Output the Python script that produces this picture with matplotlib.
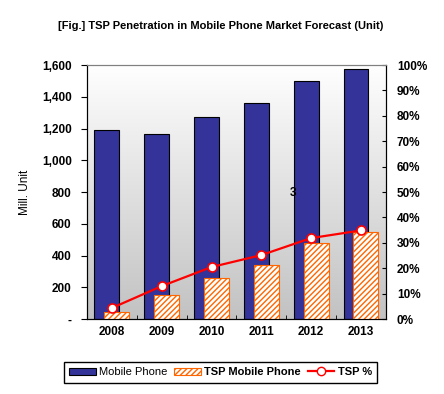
import numpy as np
import matplotlib
matplotlib.use("Agg")
import matplotlib.pyplot as plt
from matplotlib.patches import Patch
from matplotlib.lines import Line2D

plt.rcParams['font.family'] = ['Liberation Sans Narrow', 'Liberation Sans', 'DejaVu Sans']
plt.rcParams['hatch.linewidth'] = 1.0

years = ['2008', '2009', '2010', '2011', '2012', '2013']
mobile = [1188, 1163, 1273, 1361, 1497, 1575]
tsp_mobile = [48, 149, 258, 344, 479, 548]
tsp_pct = [0.044, 0.130, 0.205, 0.252, 0.319, 0.349]
left_ticks = [0, 200, 400, 600, 800, 1000, 1200, 1400, 1600]
left_labels = ['-', '200', '400', '600', '800', '1,000', '1,200', '1,400', '1,600']
right_ticks = [0.0, 0.1, 0.2, 0.3, 0.4, 0.5, 0.6, 0.7, 0.8, 0.9, 1.0]

fig = plt.figure(figsize=(4.44, 3.94), dpi=100)
ax = fig.add_axes([0.196, 0.190, 0.673, 0.645])

# plot area gradient (white at top -> grey at bottom)
grad = np.linspace(0, 1, 256).reshape(-1, 1)
ax.imshow(grad, extent=[0, 1, 0, 1], transform=ax.transAxes, aspect='auto',
          cmap=matplotlib.colors.LinearSegmentedColormap.from_list('g', ['#ffffff', '#c2c2c2']),
          zorder=0)

x = np.arange(len(years))
ax.bar(x - 0.1, mobile, 0.5, color='#333399', edgecolor='black', linewidth=0.8, zorder=2)
ax.bar(x + 0.1, tsp_mobile, 0.5, color='white', edgecolor='#FF6600', hatch='//////',
       linewidth=0.8, zorder=3)

ax.set_xlim(-0.5, 5.5)
ax.set_ylim(0, 1600)
ax.set_yticks(left_ticks)
ax.set_yticklabels(left_labels, fontsize=8.5, fontweight='bold')
ax.set_xticks(x)
ax.set_xticklabels(years, fontsize=8.5, fontweight='bold')
ax.set_xticks(np.arange(0.5, 5.5, 1), minor=True)
ax.tick_params(axis='x', which='major', length=0, pad=5)
ax.tick_params(axis='x', which='minor', direction='in', length=3)
ax.tick_params(axis='y', direction='out', length=4, pad=7)
ax.set_ylabel('Mill. Unit', fontsize=8.5, labelpad=8)
for s in ax.spines.values():
    s.set_linewidth(0.8)
ax.spines['top'].set_color('#808080')

ax.text(3.64, 794, '3', fontsize=8.5, fontweight='bold', ha='center', va='center', zorder=4)

ax2 = ax.twinx()
ax2.plot(x, tsp_pct, color='red', lw=1.6, marker='o', markersize=6.5,
         markerfacecolor='white', markeredgecolor='red', markeredgewidth=1.2, zorder=5)
ax2.set_ylim(0, 1)
ax2.set_yticks(right_ticks)
ax2.set_yticklabels(['{:.0%}'.format(t) for t in right_ticks], fontsize=8.5, fontweight='bold')
ax2.tick_params(axis='y', direction='in', length=3, pad=8)
for s in ax2.spines.values():
    s.set_linewidth(0.8)
ax2.spines['top'].set_color('#808080')

fig.text(0.497, 0.934, '[Fig.] TSP Penetration in Mobile Phone Market Forecast (Unit)',
         ha='center', va='center', fontsize=8, fontweight='bold')

handles = [Patch(facecolor='#333399', edgecolor='black', linewidth=0.8),
           Patch(facecolor='white', edgecolor='#FF6600', hatch='//////', linewidth=0.8),
           Line2D([], [], color='red', lw=1.6, marker='o', markersize=6,
                  markerfacecolor='white', markeredgecolor='red')]
leg = fig.legend(handles, ['Mobile Phone', 'TSP Mobile Phone', 'TSP %'], ncol=3,
                 loc='center', bbox_to_anchor=(0.497, 0.055), frameon=True, fancybox=False,
                 edgecolor='black', framealpha=1, fontsize=8, handlelength=2.4,
                 handleheight=0.7, columnspacing=0.6, handletextpad=0.3, borderpad=0.5)
leg.get_frame().set_linewidth(1.0)
for t in leg.get_texts()[1:]:
    t.set_fontweight('bold')

fig.savefig('out.png', dpi=100)
